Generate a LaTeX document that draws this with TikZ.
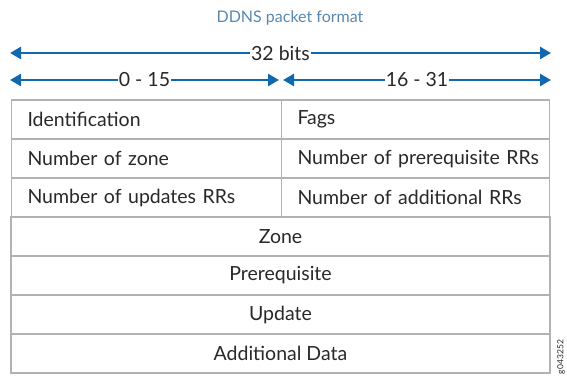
\documentclass[tikz,border=0pt]{standalone}
\usepackage{fontspec}
\setmainfont{Lato}
\usetikzlibrary{arrows.meta, positioning}
\definecolor{titleblue}{RGB}{88,136,176}
\definecolor{arrowblue}{RGB}{18,104,174}
\definecolor{rulegray}{RGB}{178,178,178}
\definecolor{inkgray}{RGB}{40,40,40}
\tikzstyle{field} = [rectangle,draw=rulegray,line width=1.6pt,minimum height=39pt,outer sep=0pt,inner ysep=0pt,text=inkgray]
\tikzstyle{half} = [field,inner xsep=16pt,text width=238pt,align=left]
\tikzstyle{wide} = [field,minimum width=539pt,align=center]
\tikzstyle{bitarrow} = [arrowblue,line width=2.6pt,{Triangle[length=11pt,width=12pt]}-{Triangle[length=11pt,width=12pt]}]
\tikzstyle{bitlabel} = [fill=white,inner xsep=1pt,inner ysep=0pt,text=inkgray]

\begin{document}
\begin{tikzpicture}[x=1pt,y=-1pt,font=\fontsize{19.5}{21}\selectfont]
	\useasboundingbox (0,0) rectangle (567,377);
	\node [text=titleblue,font=\fontsize{16}{18}\selectfont](title) at (290,18){DDNS packet format};

	% bit ranges
	\coordinate (allL) at (10,53);
	\coordinate (allR) at (551,53);
	\coordinate (loL) at (10,80);
	\coordinate (loR) at (279,80);
	\coordinate (hiL) at (283,80);
	\coordinate (hiR) at (551,80);
	\draw[bitarrow](allL)--node[bitlabel]{32 bits}(allR);
	\draw[bitarrow](loL)--node[bitlabel]{0 - 15}(loR);
	\draw[bitarrow](hiL)--node[bitlabel]{16 - 31}(hiR);

	% header words
	\node [half](ident) at (146.5,119.5){\mbox{Identification}};
	\node [half,text width=236pt,right=0pt of ident](flags){\mbox{Fags}};
	\node [half,below=0pt of ident](zcount){\mbox{Number of zone}};
	\node [half,text width=236pt,right=0pt of zcount](prcount){\mbox{Number of prerequisite RRs}};
	\node [half,below=0pt of zcount](upcount){\mbox{Number of updates RRs}};
	\node [half,text width=236pt,right=0pt of upcount](adcount){\mbox{Number of additional RRs}};

	% sections
	\node [wide](zone) at (280.5,236.5){Zone};
	\node [wide,below=0pt of zone](prereq){Prerequisite};
	\node [wide,below=0pt of prereq](update){Update};
	\node [wide,below=0pt of update](adddata){Additional Data};

	\node [rotate=90,font=\fontsize{8.5}{9}\selectfont,text=inkgray](tag) at (561,357){g043252};
\end{tikzpicture}
\end{document}
